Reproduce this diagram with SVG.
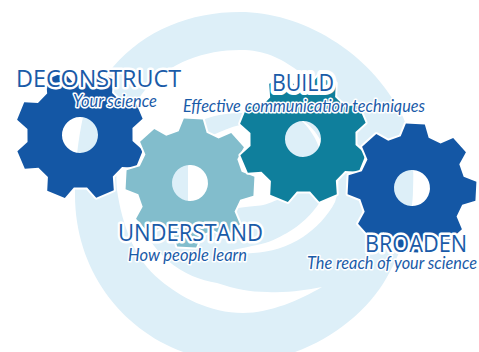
<svg xmlns="http://www.w3.org/2000/svg" width="479" height="352" viewBox="0 0 479 352">
<style>
.halo{fill:none;stroke:#fff;stroke-width:4;stroke-linejoin:round}
.gear{fill-rule:evenodd}
.h,.s{fill:#1a5ba8;stroke:#fff;paint-order:stroke;stroke-linejoin:round}
.h{font-family:"Open Sans","Noto Sans",sans-serif;font-size:24px;stroke-width:5}
.s{font-family:Lato,"Open Sans",sans-serif;font-style:italic;font-size:17px;stroke-width:3}
</style>
<defs>
<path id="o" d="M51-14L64-9.500L64 9.500L51 14L46 26.200L52 38.500L38.500 52L26.200 46L14 51L9.500 64L-9.500 64L-14 51L-26.200 46L-38.500 52L-52 38.500L-46 26.200L-51 14L-64 9.500L-64-9.500L-51-14L-46-26.200L-52-38.500L-38.500-52L-26.200-46L-14-51L-9.500-64L9.500-64L14-51L26.200-46L38.500-52L52-38.500L46-26.200Z"/>
<path id="g" d="M51-14L64-9.500L64 9.500L51 14L46 26.200L52 38.500L38.500 52L26.200 46L14 51L9.500 64L-9.500 64L-14 51L-26.200 46L-38.500 52L-52 38.500L-46 26.200L-51 14L-64 9.500L-64-9.500L-51-14L-46-26.200L-52-38.500L-38.500-52L-26.200-46L-14-51L-9.500-64L9.500-64L14-51L26.200-46L38.500-52L52-38.500L46-26.200ZM18 0A18 18 0 1 0-18 0A18 18 0 1 0 18 0Z"/>
</defs>
<g id="swirl">
<path fill="#ddeff8" d="M240 12C300 12 370 50 403 117C413 140 414 165 413 190C413 215 403 250 387 277C360 325 300 362 240 362C150 362 75 290 75 195C75 165 78 140 83 117C90 97 100 85 113 67C145 30 190 12 240 12Z"/>
<path fill="#fff" d="M322 287C300 300 270 313 243 313C210 313 180 297 160 280C135 260 122 225 117 190C114 150 125 115 145 90C170 62 205 50 240 50C265 50 280 58 297 70C312 80 322 90 330 100L322 120L280 113L240 113C225 113 212 116 203 120L165 150L150 190L145 232C152 245 160 253 167 260C185 275 200 280 217 283C235 289 250 292 267 292C290 293 305 290 322 287Z"/>
<path fill="#fff" d="M300 119L305 122C313 128 318 135 322 143C330 155 337 165 338 175C339 185 338 194 335 202C328 216 316 228 303 237C288 247 270 252 253 253C240 254 228 255 215 255C230 250 243 248 257 245C268 243 278 238 287 233C301 225 312 214 320 202C324 194 328 185 328 175C326 165 322 155 318 145C314 135 308 127 300 119Z"/>
<path fill="#fff" d="M188 150C195 140 205 135 213 135C222 131 231 127 240 125L270 125L282 130L282 160L285 190L277 200C270 203 262 206 255 206C248 207 243 207 238 208L215 208L188 215Z"/>
</g>
<g id="deconstruct">
<use href="#o" class="halo" transform="translate(80 135) rotate(22)"/>
<use href="#g" class="gear" fill="#1457a5" transform="translate(80 135) rotate(22)"/>
<text class="h" x="16" y="87" textLength="165" lengthAdjust="spacingAndGlyphs">DECONSTRUCT</text>
<text class="s" x="73" y="107" textLength="84" lengthAdjust="spacingAndGlyphs">Your science</text>
</g>
<g id="understand">
<use href="#o" class="halo" transform="translate(190 183) rotate(3)"/>
<use href="#g" class="gear" fill="#82bdcc" transform="translate(190 183) rotate(3)"/>
<text class="h" x="118" y="241" textLength="145" lengthAdjust="spacingAndGlyphs">UNDERSTAND</text>
<text class="s" x="128" y="261" textLength="119" lengthAdjust="spacingAndGlyphs">How people learn</text>
</g>
<g id="build">
<use href="#o" class="halo" transform="translate(303 139) rotate(22)"/>
<use href="#g" class="gear" fill="#0f7f9c" transform="translate(303 139) rotate(22)"/>
<text class="h" style="stroke-width:8" x="272" y="91" textLength="62" lengthAdjust="spacingAndGlyphs">BUILD</text>
<text class="s" x="183" y="112" textLength="242" lengthAdjust="spacingAndGlyphs">Effective communication techniques</text>
</g>
<g id="broaden">
<use href="#o" class="halo" transform="translate(412 188) rotate(3)"/>
<use href="#g" class="gear" fill="#1457a5" transform="translate(412 188) rotate(3)"/>
<text class="h" x="365" y="252" textLength="102" lengthAdjust="spacingAndGlyphs">BROADEN</text>
<text class="s" x="307" y="269" textLength="170" lengthAdjust="spacingAndGlyphs">The reach of your science</text>
</g>
</svg>
